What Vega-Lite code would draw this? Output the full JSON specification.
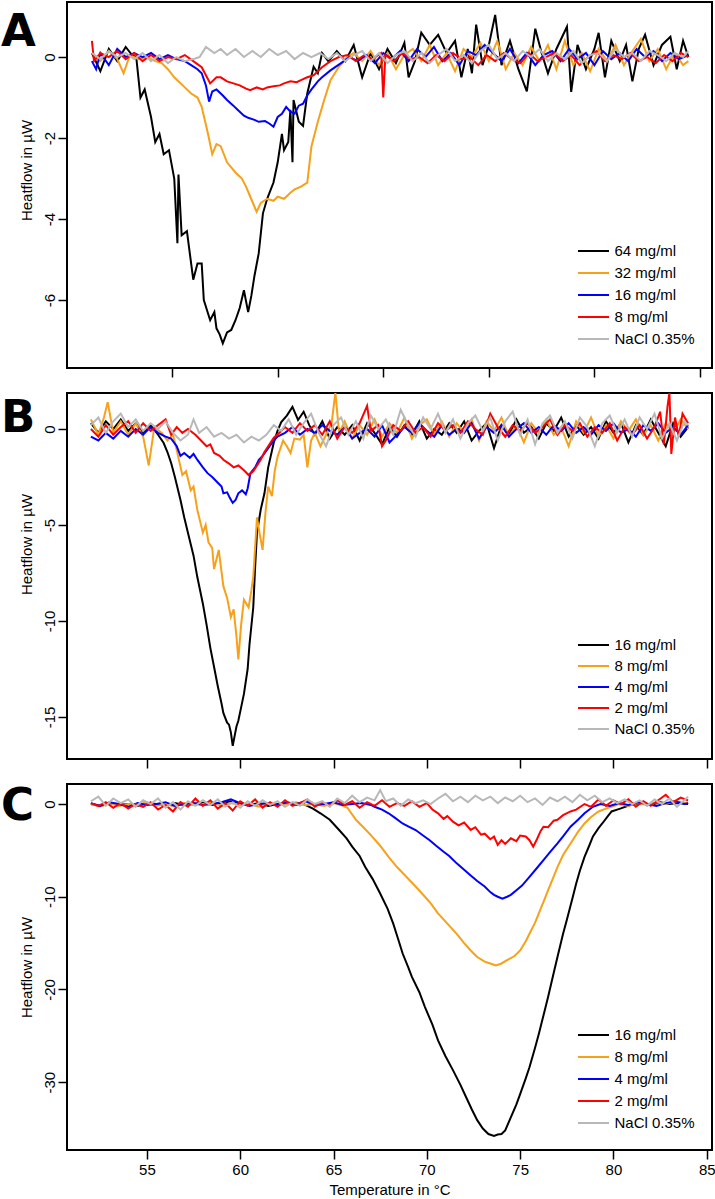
{
  "$schema": "https://vega.github.io/schema/vega-lite/v6.json",
  "description": "DSC thermograms: heatflow against temperature for three dilution series (panels A, B, C).",
  "padding": {"left": 0, "top": 1, "right": 0, "bottom": 0},
  "spacing": 25,
  "bounds": "flush",
  "config": {
    "font": "Liberation Sans",
    "view": {"stroke": "black", "strokeWidth": 2},
    "axis": {
      "grid": false, "domain": false, "tickColor": "black", "tickSize": 9, "tickWidth": 1.5,
      "labelColor": "black", "labelFontSize": 15, "labelFont": "Liberation Sans",
      "labelFlush": false, "labelOverlap": false,
      "titleColor": "black", "titleFontSize": 15, "titleFont": "Liberation Sans", "titleFontWeight": "normal"
    },
    "axisY": {"labelAngle": 270, "labelPadding": 1},
    "axisX": {"labelAngle": 0, "labelPadding": 3},
    "legend": {
      "orient": "none", "title": null, "symbolType": "M-1.55,0H1.55", "symbolSize": 400, "symbolStrokeWidth": 2,
      "labelFontSize": 15, "labelFont": "Liberation Sans", "labelColor": "black", "rowPadding": 3,
      "labelOffset": 10, "padding": 0
    },
    "line": {"strokeWidth": 2},
    "title": {
      "anchor": "start", "frame": "group", "font": "DejaVu Sans", "fontSize": 45, "fontWeight": "bold",
      "color": "black", "offset": 0, "baseline": "alphabetic", "dx": -66
    }
  },
  "resolve": {"scale": {"x": "independent", "y": "independent", "color": "independent"}, "legend": {"color": "independent"}},
  "datasets": {
    "A": [
      {"s":"64 mg/ml","t":51.2,"h":0.1},{"s":"64 mg/ml","t":51.6,"h":-0.35},{"s":"64 mg/ml","t":52.0,"h":0.2},{"s":"64 mg/ml","t":52.4,"h":-0.1},{"s":"64 mg/ml","t":52.8,"h":0.25},{"s":"64 mg/ml","t":53.1,"h":0.05},{"s":"64 mg/ml","t":53.3,"h":0.0},{"s":"64 mg/ml","t":53.5,"h":-1.0},{"s":"64 mg/ml","t":53.7,"h":-0.8},{"s":"64 mg/ml","t":54.0,"h":-1.48},{"s":"64 mg/ml","t":54.2,"h":-2.1},{"s":"64 mg/ml","t":54.4,"h":-1.9},{"s":"64 mg/ml","t":54.6,"h":-2.4},{"s":"64 mg/ml","t":54.85,"h":-2.3},{"s":"64 mg/ml","t":55.1,"h":-3.0},{"s":"64 mg/ml","t":55.25,"h":-4.6},{"s":"64 mg/ml","t":55.3,"h":-2.9},{"s":"64 mg/ml","t":55.45,"h":-4.4},{"s":"64 mg/ml","t":55.7,"h":-4.3},{"s":"64 mg/ml","t":56.0,"h":-5.5},{"s":"64 mg/ml","t":56.2,"h":-5.1},{"s":"64 mg/ml","t":56.4,"h":-5.1},{"s":"64 mg/ml","t":56.5,"h":-6.0},{"s":"64 mg/ml","t":56.8,"h":-6.5},{"s":"64 mg/ml","t":57.0,"h":-6.3},{"s":"64 mg/ml","t":57.1,"h":-6.7},{"s":"64 mg/ml","t":57.25,"h":-6.85},{"s":"64 mg/ml","t":57.4,"h":-7.07},{"s":"64 mg/ml","t":57.6,"h":-6.8},{"s":"64 mg/ml","t":57.8,"h":-6.74},{"s":"64 mg/ml","t":58.0,"h":-6.5},{"s":"64 mg/ml","t":58.2,"h":-6.2},{"s":"64 mg/ml","t":58.4,"h":-5.76},{"s":"64 mg/ml","t":58.6,"h":-6.3},{"s":"64 mg/ml","t":58.75,"h":-5.9},{"s":"64 mg/ml","t":58.9,"h":-5.4},{"s":"64 mg/ml","t":59.1,"h":-4.85},{"s":"64 mg/ml","t":59.3,"h":-3.86},{"s":"64 mg/ml","t":59.5,"h":-3.5},{"s":"64 mg/ml","t":59.8,"h":-3.1},{"s":"64 mg/ml","t":60.0,"h":-2.6},{"s":"64 mg/ml","t":60.2,"h":-1.9},{"s":"64 mg/ml","t":60.3,"h":-2.3},{"s":"64 mg/ml","t":60.5,"h":-2.1},{"s":"64 mg/ml","t":60.6,"h":-1.3},{"s":"64 mg/ml","t":60.7,"h":-2.6},{"s":"64 mg/ml","t":60.75,"h":-1.06},{"s":"64 mg/ml","t":61.0,"h":-1.6},{"s":"64 mg/ml","t":61.2,"h":-1.7},{"s":"64 mg/ml","t":61.4,"h":-0.9},{"s":"64 mg/ml","t":61.7,"h":-0.24},{"s":"64 mg/ml","t":61.9,"h":-0.4},{"s":"64 mg/ml","t":62.1,"h":0.1},{"s":"64 mg/ml","t":62.4,"h":-0.1},{"s":"64 mg/ml","t":62.8,"h":0.15},{"s":"64 mg/ml","t":63.2,"h":-0.1},{"s":"64 mg/ml","t":63.6,"h":0.3},{"s":"64 mg/ml","t":64.0,"h":-0.5},{"s":"64 mg/ml","t":64.4,"h":0.1},{"s":"64 mg/ml","t":64.8,"h":-0.3},{"s":"64 mg/ml","t":65.2,"h":0.2},{"s":"64 mg/ml","t":65.6,"h":-0.15},{"s":"64 mg/ml","t":66.0,"h":0.35},{"s":"64 mg/ml","t":66.2,"h":-0.5},{"s":"64 mg/ml","t":66.5,"h":-0.1},{"s":"64 mg/ml","t":66.8,"h":0.6},{"s":"64 mg/ml","t":67.2,"h":0.3},{"s":"64 mg/ml","t":67.6,"h":0.55},{"s":"64 mg/ml","t":68.0,"h":0.1},{"s":"64 mg/ml","t":68.4,"h":0.4},{"s":"64 mg/ml","t":68.7,"h":-0.5},{"s":"64 mg/ml","t":69.0,"h":0.2},{"s":"64 mg/ml","t":69.2,"h":-0.4},{"s":"64 mg/ml","t":69.4,"h":0.8},{"s":"64 mg/ml","t":69.7,"h":-0.2},{"s":"64 mg/ml","t":70.0,"h":0.3},{"s":"64 mg/ml","t":70.3,"h":1.04},{"s":"64 mg/ml","t":70.6,"h":-0.2},{"s":"64 mg/ml","t":71.0,"h":0.4},{"s":"64 mg/ml","t":71.4,"h":-0.3},{"s":"64 mg/ml","t":71.8,"h":-0.85},{"s":"64 mg/ml","t":72.2,"h":0.7},{"s":"64 mg/ml","t":72.5,"h":0.1},{"s":"64 mg/ml","t":72.8,"h":-0.4},{"s":"64 mg/ml","t":73.2,"h":0.2},{"s":"64 mg/ml","t":73.7,"h":0.75},{"s":"64 mg/ml","t":73.9,"h":-0.86},{"s":"64 mg/ml","t":74.2,"h":0.3},{"s":"64 mg/ml","t":74.6,"h":-0.3},{"s":"64 mg/ml","t":75.0,"h":0.2},{"s":"64 mg/ml","t":75.2,"h":0.6},{"s":"64 mg/ml","t":75.5,"h":-0.5},{"s":"64 mg/ml","t":75.8,"h":0.4},{"s":"64 mg/ml","t":76.2,"h":-0.1},{"s":"64 mg/ml","t":76.5,"h":0.3},{"s":"64 mg/ml","t":76.8,"h":-0.6},{"s":"64 mg/ml","t":77.1,"h":0.2},{"s":"64 mg/ml","t":77.4,"h":0.55},{"s":"64 mg/ml","t":77.8,"h":-0.2},{"s":"64 mg/ml","t":78.2,"h":0.3},{"s":"64 mg/ml","t":78.6,"h":0.5},{"s":"64 mg/ml","t":78.9,"h":-0.3},{"s":"64 mg/ml","t":79.2,"h":0.4},{"s":"64 mg/ml","t":79.45,"h":0.0},
      {"s":"32 mg/ml","t":51.2,"h":0.1},{"s":"32 mg/ml","t":51.6,"h":-0.1},{"s":"32 mg/ml","t":52.0,"h":0.15},{"s":"32 mg/ml","t":52.4,"h":-0.05},{"s":"32 mg/ml","t":52.7,"h":-0.4},{"s":"32 mg/ml","t":53.0,"h":0.05},{"s":"32 mg/ml","t":53.4,"h":-0.05},{"s":"32 mg/ml","t":53.8,"h":0.0},{"s":"32 mg/ml","t":54.2,"h":-0.1},{"s":"32 mg/ml","t":54.5,"h":-0.15},{"s":"32 mg/ml","t":54.8,"h":-0.3},{"s":"32 mg/ml","t":55.1,"h":-0.5},{"s":"32 mg/ml","t":55.5,"h":-0.7},{"s":"32 mg/ml","t":55.9,"h":-0.9},{"s":"32 mg/ml","t":56.2,"h":-1.0},{"s":"32 mg/ml","t":56.4,"h":-1.23},{"s":"32 mg/ml","t":56.7,"h":-1.9},{"s":"32 mg/ml","t":56.9,"h":-2.4},{"s":"32 mg/ml","t":57.1,"h":-2.15},{"s":"32 mg/ml","t":57.3,"h":-2.2},{"s":"32 mg/ml","t":57.6,"h":-2.6},{"s":"32 mg/ml","t":58.0,"h":-2.85},{"s":"32 mg/ml","t":58.3,"h":-3.0},{"s":"32 mg/ml","t":58.5,"h":-3.2},{"s":"32 mg/ml","t":58.7,"h":-3.45},{"s":"32 mg/ml","t":59.0,"h":-3.82},{"s":"32 mg/ml","t":59.2,"h":-3.6},{"s":"32 mg/ml","t":59.5,"h":-3.5},{"s":"32 mg/ml","t":59.8,"h":-3.55},{"s":"32 mg/ml","t":60.0,"h":-3.45},{"s":"32 mg/ml","t":60.3,"h":-3.5},{"s":"32 mg/ml","t":60.6,"h":-3.35},{"s":"32 mg/ml","t":60.8,"h":-3.27},{"s":"32 mg/ml","t":61.1,"h":-3.2},{"s":"32 mg/ml","t":61.4,"h":-3.1},{"s":"32 mg/ml","t":61.6,"h":-2.2},{"s":"32 mg/ml","t":61.9,"h":-1.6},{"s":"32 mg/ml","t":62.2,"h":-1.06},{"s":"32 mg/ml","t":62.5,"h":-0.57},{"s":"32 mg/ml","t":62.9,"h":-0.24},{"s":"32 mg/ml","t":63.3,"h":0.0},{"s":"32 mg/ml","t":63.6,"h":0.1},{"s":"32 mg/ml","t":64.0,"h":-0.1},{"s":"32 mg/ml","t":64.4,"h":0.15},{"s":"32 mg/ml","t":64.8,"h":-0.2},{"s":"32 mg/ml","t":65.2,"h":0.1},{"s":"32 mg/ml","t":65.6,"h":-0.3},{"s":"32 mg/ml","t":66.0,"h":0.05},{"s":"32 mg/ml","t":66.4,"h":0.2},{"s":"32 mg/ml","t":66.8,"h":-0.1},{"s":"32 mg/ml","t":67.2,"h":0.3},{"s":"32 mg/ml","t":67.6,"h":-0.2},{"s":"32 mg/ml","t":68.0,"h":0.1},{"s":"32 mg/ml","t":68.4,"h":-0.35},{"s":"32 mg/ml","t":68.8,"h":0.2},{"s":"32 mg/ml","t":69.2,"h":0.0},{"s":"32 mg/ml","t":69.6,"h":0.35},{"s":"32 mg/ml","t":70.0,"h":-0.1},{"s":"32 mg/ml","t":70.4,"h":0.4},{"s":"32 mg/ml","t":70.8,"h":-0.3},{"s":"32 mg/ml","t":71.2,"h":0.1},{"s":"32 mg/ml","t":71.6,"h":-0.2},{"s":"32 mg/ml","t":72.0,"h":0.25},{"s":"32 mg/ml","t":72.4,"h":-0.1},{"s":"32 mg/ml","t":72.8,"h":0.3},{"s":"32 mg/ml","t":73.2,"h":-0.3},{"s":"32 mg/ml","t":73.6,"h":0.4},{"s":"32 mg/ml","t":74.0,"h":-0.2},{"s":"32 mg/ml","t":74.4,"h":0.1},{"s":"32 mg/ml","t":74.8,"h":-0.35},{"s":"32 mg/ml","t":75.2,"h":0.2},{"s":"32 mg/ml","t":75.6,"h":-0.1},{"s":"32 mg/ml","t":76.0,"h":0.3},{"s":"32 mg/ml","t":76.4,"h":-0.2},{"s":"32 mg/ml","t":76.8,"h":0.15},{"s":"32 mg/ml","t":77.2,"h":0.45},{"s":"32 mg/ml","t":77.6,"h":-0.1},{"s":"32 mg/ml","t":78.0,"h":0.2},{"s":"32 mg/ml","t":78.4,"h":-0.3},{"s":"32 mg/ml","t":78.8,"h":0.1},{"s":"32 mg/ml","t":79.2,"h":-0.2},{"s":"32 mg/ml","t":79.45,"h":-0.1},
      {"s":"16 mg/ml","t":51.2,"h":-0.1},{"s":"16 mg/ml","t":51.4,"h":-0.3},{"s":"16 mg/ml","t":51.6,"h":0.1},{"s":"16 mg/ml","t":52.0,"h":-0.2},{"s":"16 mg/ml","t":52.4,"h":0.2},{"s":"16 mg/ml","t":52.8,"h":0.0},{"s":"16 mg/ml","t":53.2,"h":0.1},{"s":"16 mg/ml","t":53.6,"h":0.0},{"s":"16 mg/ml","t":54.0,"h":0.1},{"s":"16 mg/ml","t":54.4,"h":-0.05},{"s":"16 mg/ml","t":54.8,"h":0.05},{"s":"16 mg/ml","t":55.2,"h":-0.05},{"s":"16 mg/ml","t":55.6,"h":-0.1},{"s":"16 mg/ml","t":55.9,"h":-0.2},{"s":"16 mg/ml","t":56.2,"h":-0.3},{"s":"16 mg/ml","t":56.4,"h":-0.4},{"s":"16 mg/ml","t":56.6,"h":-0.7},{"s":"16 mg/ml","t":56.75,"h":-1.1},{"s":"16 mg/ml","t":56.9,"h":-0.85},{"s":"16 mg/ml","t":57.1,"h":-0.8},{"s":"16 mg/ml","t":57.4,"h":-0.95},{"s":"16 mg/ml","t":57.6,"h":-1.06},{"s":"16 mg/ml","t":57.9,"h":-1.2},{"s":"16 mg/ml","t":58.1,"h":-1.3},{"s":"16 mg/ml","t":58.4,"h":-1.45},{"s":"16 mg/ml","t":58.6,"h":-1.5},{"s":"16 mg/ml","t":58.9,"h":-1.55},{"s":"16 mg/ml","t":59.1,"h":-1.6},{"s":"16 mg/ml","t":59.4,"h":-1.58},{"s":"16 mg/ml","t":59.6,"h":-1.64},{"s":"16 mg/ml","t":59.8,"h":-1.72},{"s":"16 mg/ml","t":60.0,"h":-1.48},{"s":"16 mg/ml","t":60.2,"h":-1.4},{"s":"16 mg/ml","t":60.4,"h":-1.23},{"s":"16 mg/ml","t":60.6,"h":-1.35},{"s":"16 mg/ml","t":60.8,"h":-1.4},{"s":"16 mg/ml","t":61.0,"h":-1.2},{"s":"16 mg/ml","t":61.2,"h":-1.15},{"s":"16 mg/ml","t":61.4,"h":-0.95},{"s":"16 mg/ml","t":61.6,"h":-0.8},{"s":"16 mg/ml","t":61.9,"h":-0.6},{"s":"16 mg/ml","t":62.1,"h":-0.5},{"s":"16 mg/ml","t":62.5,"h":-0.33},{"s":"16 mg/ml","t":63.0,"h":-0.15},{"s":"16 mg/ml","t":63.4,"h":0.0},{"s":"16 mg/ml","t":63.8,"h":-0.1},{"s":"16 mg/ml","t":64.2,"h":0.05},{"s":"16 mg/ml","t":64.6,"h":-0.15},{"s":"16 mg/ml","t":65.0,"h":0.1},{"s":"16 mg/ml","t":65.4,"h":-0.05},{"s":"16 mg/ml","t":65.8,"h":0.15},{"s":"16 mg/ml","t":66.2,"h":-0.1},{"s":"16 mg/ml","t":66.6,"h":0.2},{"s":"16 mg/ml","t":67.0,"h":0.0},{"s":"16 mg/ml","t":67.4,"h":0.25},{"s":"16 mg/ml","t":67.8,"h":-0.1},{"s":"16 mg/ml","t":68.2,"h":0.1},{"s":"16 mg/ml","t":68.6,"h":-0.2},{"s":"16 mg/ml","t":69.0,"h":0.15},{"s":"16 mg/ml","t":69.4,"h":0.05},{"s":"16 mg/ml","t":69.8,"h":0.3},{"s":"16 mg/ml","t":70.2,"h":0.1},{"s":"16 mg/ml","t":70.6,"h":-0.1},{"s":"16 mg/ml","t":71.0,"h":0.2},{"s":"16 mg/ml","t":71.4,"h":-0.15},{"s":"16 mg/ml","t":71.8,"h":0.1},{"s":"16 mg/ml","t":72.2,"h":-0.2},{"s":"16 mg/ml","t":72.6,"h":0.05},{"s":"16 mg/ml","t":73.0,"h":0.15},{"s":"16 mg/ml","t":73.4,"h":-0.1},{"s":"16 mg/ml","t":73.8,"h":0.2},{"s":"16 mg/ml","t":74.2,"h":-0.05},{"s":"16 mg/ml","t":74.6,"h":0.1},{"s":"16 mg/ml","t":75.0,"h":-0.2},{"s":"16 mg/ml","t":75.4,"h":0.15},{"s":"16 mg/ml","t":75.8,"h":-0.05},{"s":"16 mg/ml","t":76.2,"h":0.1},{"s":"16 mg/ml","t":76.6,"h":-0.1},{"s":"16 mg/ml","t":77.0,"h":0.2},{"s":"16 mg/ml","t":77.4,"h":0.0},{"s":"16 mg/ml","t":77.8,"h":0.15},{"s":"16 mg/ml","t":78.2,"h":-0.1},{"s":"16 mg/ml","t":78.6,"h":0.1},{"s":"16 mg/ml","t":79.0,"h":-0.05},{"s":"16 mg/ml","t":79.45,"h":0.05},
      {"s":"8 mg/ml","t":51.2,"h":0.4},{"s":"8 mg/ml","t":51.3,"h":-0.1},{"s":"8 mg/ml","t":51.6,"h":0.1},{"s":"8 mg/ml","t":52.0,"h":0.0},{"s":"8 mg/ml","t":52.4,"h":0.15},{"s":"8 mg/ml","t":52.8,"h":-0.05},{"s":"8 mg/ml","t":53.2,"h":0.1},{"s":"8 mg/ml","t":53.6,"h":-0.1},{"s":"8 mg/ml","t":54.0,"h":0.05},{"s":"8 mg/ml","t":54.4,"h":-0.1},{"s":"8 mg/ml","t":54.8,"h":0.0},{"s":"8 mg/ml","t":55.2,"h":-0.05},{"s":"8 mg/ml","t":55.6,"h":0.05},{"s":"8 mg/ml","t":56.0,"h":-0.1},{"s":"8 mg/ml","t":56.4,"h":-0.25},{"s":"8 mg/ml","t":56.6,"h":-0.45},{"s":"8 mg/ml","t":56.8,"h":-0.65},{"s":"8 mg/ml","t":57.1,"h":-0.5},{"s":"8 mg/ml","t":57.3,"h":-0.5},{"s":"8 mg/ml","t":57.6,"h":-0.6},{"s":"8 mg/ml","t":57.9,"h":-0.65},{"s":"8 mg/ml","t":58.2,"h":-0.7},{"s":"8 mg/ml","t":58.5,"h":-0.78},{"s":"8 mg/ml","t":58.7,"h":-0.82},{"s":"8 mg/ml","t":59.0,"h":-0.75},{"s":"8 mg/ml","t":59.3,"h":-0.8},{"s":"8 mg/ml","t":59.5,"h":-0.75},{"s":"8 mg/ml","t":59.8,"h":-0.72},{"s":"8 mg/ml","t":60.1,"h":-0.7},{"s":"8 mg/ml","t":60.3,"h":-0.65},{"s":"8 mg/ml","t":60.6,"h":-0.6},{"s":"8 mg/ml","t":60.9,"h":-0.62},{"s":"8 mg/ml","t":61.1,"h":-0.57},{"s":"8 mg/ml","t":61.4,"h":-0.5},{"s":"8 mg/ml","t":61.7,"h":-0.45},{"s":"8 mg/ml","t":61.9,"h":-0.35},{"s":"8 mg/ml","t":62.1,"h":-0.25},{"s":"8 mg/ml","t":62.5,"h":-0.1},{"s":"8 mg/ml","t":62.9,"h":0.0},{"s":"8 mg/ml","t":63.3,"h":0.05},{"s":"8 mg/ml","t":63.7,"h":-0.1},{"s":"8 mg/ml","t":64.1,"h":0.05},{"s":"8 mg/ml","t":64.5,"h":-0.05},{"s":"8 mg/ml","t":64.9,"h":0.1},{"s":"8 mg/ml","t":65.0,"h":-1.0},{"s":"8 mg/ml","t":65.1,"h":0.05},{"s":"8 mg/ml","t":65.5,"h":-0.1},{"s":"8 mg/ml","t":65.9,"h":0.1},{"s":"8 mg/ml","t":66.3,"h":-0.05},{"s":"8 mg/ml","t":66.7,"h":0.0},{"s":"8 mg/ml","t":67.1,"h":-0.15},{"s":"8 mg/ml","t":67.5,"h":0.05},{"s":"8 mg/ml","t":67.9,"h":-0.1},{"s":"8 mg/ml","t":68.3,"h":0.1},{"s":"8 mg/ml","t":68.7,"h":-0.05},{"s":"8 mg/ml","t":69.1,"h":0.0},{"s":"8 mg/ml","t":69.5,"h":-0.2},{"s":"8 mg/ml","t":69.9,"h":0.05},{"s":"8 mg/ml","t":70.3,"h":-0.1},{"s":"8 mg/ml","t":70.7,"h":0.1},{"s":"8 mg/ml","t":71.1,"h":-0.05},{"s":"8 mg/ml","t":71.5,"h":-0.15},{"s":"8 mg/ml","t":71.9,"h":0.1},{"s":"8 mg/ml","t":72.3,"h":-0.1},{"s":"8 mg/ml","t":72.7,"h":0.0},{"s":"8 mg/ml","t":73.1,"h":0.1},{"s":"8 mg/ml","t":73.5,"h":-0.1},{"s":"8 mg/ml","t":73.9,"h":0.05},{"s":"8 mg/ml","t":74.3,"h":-0.2},{"s":"8 mg/ml","t":74.7,"h":0.0},{"s":"8 mg/ml","t":75.1,"h":0.15},{"s":"8 mg/ml","t":75.5,"h":-0.1},{"s":"8 mg/ml","t":75.9,"h":0.05},{"s":"8 mg/ml","t":76.3,"h":-0.05},{"s":"8 mg/ml","t":76.7,"h":0.1},{"s":"8 mg/ml","t":77.1,"h":-0.1},{"s":"8 mg/ml","t":77.5,"h":0.0},{"s":"8 mg/ml","t":77.9,"h":-0.15},{"s":"8 mg/ml","t":78.3,"h":0.05},{"s":"8 mg/ml","t":78.7,"h":-0.1},{"s":"8 mg/ml","t":79.1,"h":0.1},{"s":"8 mg/ml","t":79.45,"h":0.0},
      {"s":"NaCl 0.35%","t":51.2,"h":0.1},{"s":"NaCl 0.35%","t":51.6,"h":-0.05},{"s":"NaCl 0.35%","t":52.0,"h":0.15},{"s":"NaCl 0.35%","t":52.4,"h":0.0},{"s":"NaCl 0.35%","t":52.8,"h":0.1},{"s":"NaCl 0.35%","t":53.2,"h":-0.05},{"s":"NaCl 0.35%","t":53.6,"h":0.1},{"s":"NaCl 0.35%","t":54.0,"h":-0.1},{"s":"NaCl 0.35%","t":54.4,"h":0.05},{"s":"NaCl 0.35%","t":54.8,"h":-0.15},{"s":"NaCl 0.35%","t":55.2,"h":0.0},{"s":"NaCl 0.35%","t":55.6,"h":-0.1},{"s":"NaCl 0.35%","t":56.0,"h":-0.05},{"s":"NaCl 0.35%","t":56.3,"h":0.0},{"s":"NaCl 0.35%","t":56.6,"h":0.25},{"s":"NaCl 0.35%","t":57.0,"h":0.1},{"s":"NaCl 0.35%","t":57.3,"h":0.2},{"s":"NaCl 0.35%","t":57.6,"h":0.05},{"s":"NaCl 0.35%","t":58.0,"h":0.2},{"s":"NaCl 0.35%","t":58.4,"h":0.0},{"s":"NaCl 0.35%","t":58.8,"h":0.15},{"s":"NaCl 0.35%","t":59.2,"h":0.0},{"s":"NaCl 0.35%","t":59.6,"h":0.2},{"s":"NaCl 0.35%","t":60.0,"h":0.05},{"s":"NaCl 0.35%","t":60.4,"h":0.15},{"s":"NaCl 0.35%","t":60.8,"h":-0.05},{"s":"NaCl 0.35%","t":61.2,"h":0.1},{"s":"NaCl 0.35%","t":61.6,"h":0.0},{"s":"NaCl 0.35%","t":62.0,"h":0.1},{"s":"NaCl 0.35%","t":62.4,"h":-0.05},{"s":"NaCl 0.35%","t":62.8,"h":0.1},{"s":"NaCl 0.35%","t":63.2,"h":-0.1},{"s":"NaCl 0.35%","t":63.6,"h":0.05},{"s":"NaCl 0.35%","t":64.0,"h":0.15},{"s":"NaCl 0.35%","t":64.4,"h":-0.1},{"s":"NaCl 0.35%","t":64.8,"h":0.1},{"s":"NaCl 0.35%","t":65.2,"h":-0.15},{"s":"NaCl 0.35%","t":65.6,"h":0.05},{"s":"NaCl 0.35%","t":66.0,"h":0.15},{"s":"NaCl 0.35%","t":66.4,"h":-0.1},{"s":"NaCl 0.35%","t":66.8,"h":0.1},{"s":"NaCl 0.35%","t":67.2,"h":-0.15},{"s":"NaCl 0.35%","t":67.6,"h":0.05},{"s":"NaCl 0.35%","t":68.0,"h":0.2},{"s":"NaCl 0.35%","t":68.4,"h":-0.1},{"s":"NaCl 0.35%","t":68.8,"h":0.05},{"s":"NaCl 0.35%","t":69.2,"h":-0.15},{"s":"NaCl 0.35%","t":69.6,"h":0.15},{"s":"NaCl 0.35%","t":70.0,"h":0.3},{"s":"NaCl 0.35%","t":70.4,"h":-0.05},{"s":"NaCl 0.35%","t":70.8,"h":0.1},{"s":"NaCl 0.35%","t":71.2,"h":-0.1},{"s":"NaCl 0.35%","t":71.6,"h":0.15},{"s":"NaCl 0.35%","t":72.0,"h":0.0},{"s":"NaCl 0.35%","t":72.4,"h":0.2},{"s":"NaCl 0.35%","t":72.8,"h":-0.1},{"s":"NaCl 0.35%","t":73.2,"h":0.1},{"s":"NaCl 0.35%","t":73.6,"h":-0.05},{"s":"NaCl 0.35%","t":74.0,"h":0.15},{"s":"NaCl 0.35%","t":74.4,"h":-0.15},{"s":"NaCl 0.35%","t":74.8,"h":0.05},{"s":"NaCl 0.35%","t":75.2,"h":0.1},{"s":"NaCl 0.35%","t":75.6,"h":-0.1},{"s":"NaCl 0.35%","t":76.0,"h":0.2},{"s":"NaCl 0.35%","t":76.4,"h":0.0},{"s":"NaCl 0.35%","t":76.8,"h":0.1},{"s":"NaCl 0.35%","t":77.2,"h":-0.1},{"s":"NaCl 0.35%","t":77.6,"h":0.15},{"s":"NaCl 0.35%","t":78.0,"h":0.05},{"s":"NaCl 0.35%","t":78.4,"h":-0.1},{"s":"NaCl 0.35%","t":78.8,"h":0.1},{"s":"NaCl 0.35%","t":79.2,"h":0.0},{"s":"NaCl 0.35%","t":79.45,"h":0.15}
    ],
    "B": [
      {"s":"16 mg/ml","t":52.0,"h":0.3},{"s":"16 mg/ml","t":52.4,"h":-0.2},{"s":"16 mg/ml","t":52.8,"h":0.4},{"s":"16 mg/ml","t":53.2,"h":0.0},{"s":"16 mg/ml","t":53.6,"h":0.5},{"s":"16 mg/ml","t":54.0,"h":-0.1},{"s":"16 mg/ml","t":54.4,"h":0.3},{"s":"16 mg/ml","t":54.8,"h":-0.2},{"s":"16 mg/ml","t":55.2,"h":0.2},{"s":"16 mg/ml","t":55.6,"h":-0.3},{"s":"16 mg/ml","t":55.9,"h":-0.73},{"s":"16 mg/ml","t":56.1,"h":-1.2},{"s":"16 mg/ml","t":56.3,"h":-1.77},{"s":"16 mg/ml","t":56.5,"h":-2.5},{"s":"16 mg/ml","t":56.8,"h":-3.7},{"s":"16 mg/ml","t":57.0,"h":-4.6},{"s":"16 mg/ml","t":57.2,"h":-5.4},{"s":"16 mg/ml","t":57.5,"h":-6.6},{"s":"16 mg/ml","t":57.7,"h":-7.7},{"s":"16 mg/ml","t":58.0,"h":-9.1},{"s":"16 mg/ml","t":58.2,"h":-10.2},{"s":"16 mg/ml","t":58.4,"h":-11.4},{"s":"16 mg/ml","t":58.6,"h":-12.4},{"s":"16 mg/ml","t":58.8,"h":-13.4},{"s":"16 mg/ml","t":59.0,"h":-14.3},{"s":"16 mg/ml","t":59.1,"h":-14.8},{"s":"16 mg/ml","t":59.3,"h":-15.3},{"s":"16 mg/ml","t":59.4,"h":-15.4},{"s":"16 mg/ml","t":59.5,"h":-15.8},{"s":"16 mg/ml","t":59.6,"h":-16.5},{"s":"16 mg/ml","t":59.7,"h":-16.0},{"s":"16 mg/ml","t":59.8,"h":-15.5},{"s":"16 mg/ml","t":59.9,"h":-15.2},{"s":"16 mg/ml","t":60.05,"h":-14.5},{"s":"16 mg/ml","t":60.2,"h":-13.8},{"s":"16 mg/ml","t":60.4,"h":-12.5},{"s":"16 mg/ml","t":60.5,"h":-11.2},{"s":"16 mg/ml","t":60.7,"h":-9.3},{"s":"16 mg/ml","t":60.8,"h":-7.2},{"s":"16 mg/ml","t":60.9,"h":-5.4},{"s":"16 mg/ml","t":61.1,"h":-4.2},{"s":"16 mg/ml","t":61.3,"h":-3.35},{"s":"16 mg/ml","t":61.5,"h":-2.0},{"s":"16 mg/ml","t":61.8,"h":-0.7},{"s":"16 mg/ml","t":62.0,"h":-0.1},{"s":"16 mg/ml","t":62.2,"h":0.36},{"s":"16 mg/ml","t":62.5,"h":0.7},{"s":"16 mg/ml","t":62.8,"h":1.15},{"s":"16 mg/ml","t":63.1,"h":0.47},{"s":"16 mg/ml","t":63.4,"h":0.9},{"s":"16 mg/ml","t":63.7,"h":0.2},{"s":"16 mg/ml","t":64.0,"h":-0.3},{"s":"16 mg/ml","t":64.4,"h":0.4},{"s":"16 mg/ml","t":64.8,"h":-0.5},{"s":"16 mg/ml","t":65.2,"h":0.1},{"s":"16 mg/ml","t":65.6,"h":-0.3},{"s":"16 mg/ml","t":66.0,"h":0.2},{"s":"16 mg/ml","t":66.4,"h":-0.6},{"s":"16 mg/ml","t":66.8,"h":0.3},{"s":"16 mg/ml","t":67.2,"h":-0.2},{"s":"16 mg/ml","t":67.6,"h":-0.8},{"s":"16 mg/ml","t":68.0,"h":0.1},{"s":"16 mg/ml","t":68.4,"h":-0.4},{"s":"16 mg/ml","t":68.8,"h":0.2},{"s":"16 mg/ml","t":69.2,"h":-0.3},{"s":"16 mg/ml","t":69.6,"h":0.4},{"s":"16 mg/ml","t":70.0,"h":-0.5},{"s":"16 mg/ml","t":70.4,"h":0.0},{"s":"16 mg/ml","t":70.8,"h":-0.3},{"s":"16 mg/ml","t":71.2,"h":0.3},{"s":"16 mg/ml","t":71.6,"h":-0.2},{"s":"16 mg/ml","t":72.0,"h":0.4},{"s":"16 mg/ml","t":72.4,"h":-0.6},{"s":"16 mg/ml","t":72.8,"h":-0.1},{"s":"16 mg/ml","t":73.2,"h":0.3},{"s":"16 mg/ml","t":73.6,"h":-1.0},{"s":"16 mg/ml","t":74.0,"h":0.2},{"s":"16 mg/ml","t":74.4,"h":-0.3},{"s":"16 mg/ml","t":74.8,"h":0.5},{"s":"16 mg/ml","t":75.2,"h":-0.2},{"s":"16 mg/ml","t":75.6,"h":0.1},{"s":"16 mg/ml","t":76.0,"h":-0.5},{"s":"16 mg/ml","t":76.4,"h":0.3},{"s":"16 mg/ml","t":76.8,"h":-0.1},{"s":"16 mg/ml","t":77.2,"h":0.6},{"s":"16 mg/ml","t":77.6,"h":-0.4},{"s":"16 mg/ml","t":78.0,"h":0.2},{"s":"16 mg/ml","t":78.4,"h":-0.3},{"s":"16 mg/ml","t":78.8,"h":0.1},{"s":"16 mg/ml","t":79.2,"h":-0.5},{"s":"16 mg/ml","t":79.6,"h":0.4},{"s":"16 mg/ml","t":80.0,"h":-0.2},{"s":"16 mg/ml","t":80.4,"h":0.3},{"s":"16 mg/ml","t":80.8,"h":-0.7},{"s":"16 mg/ml","t":81.2,"h":0.2},{"s":"16 mg/ml","t":81.6,"h":-0.3},{"s":"16 mg/ml","t":82.0,"h":0.5},{"s":"16 mg/ml","t":82.4,"h":-0.2},{"s":"16 mg/ml","t":82.8,"h":-0.9},{"s":"16 mg/ml","t":83.2,"h":0.3},{"s":"16 mg/ml","t":83.6,"h":-0.4},{"s":"16 mg/ml","t":84.0,"h":0.1},
      {"s":"8 mg/ml","t":52.0,"h":0.5},{"s":"8 mg/ml","t":52.4,"h":-0.3},{"s":"8 mg/ml","t":52.7,"h":0.6},{"s":"8 mg/ml","t":52.9,"h":1.4},{"s":"8 mg/ml","t":53.2,"h":-0.2},{"s":"8 mg/ml","t":53.6,"h":0.4},{"s":"8 mg/ml","t":54.0,"h":-0.3},{"s":"8 mg/ml","t":54.4,"h":0.3},{"s":"8 mg/ml","t":54.8,"h":-0.4},{"s":"8 mg/ml","t":55.1,"h":-1.9},{"s":"8 mg/ml","t":55.4,"h":0.1},{"s":"8 mg/ml","t":55.8,"h":-0.2},{"s":"8 mg/ml","t":56.1,"h":-0.6},{"s":"8 mg/ml","t":56.4,"h":-0.3},{"s":"8 mg/ml","t":56.6,"h":-1.1},{"s":"8 mg/ml","t":56.9,"h":-2.4},{"s":"8 mg/ml","t":57.1,"h":-2.2},{"s":"8 mg/ml","t":57.35,"h":-3.2},{"s":"8 mg/ml","t":57.5,"h":-3.0},{"s":"8 mg/ml","t":57.7,"h":-4.2},{"s":"8 mg/ml","t":58.0,"h":-5.4},{"s":"8 mg/ml","t":58.15,"h":-5.0},{"s":"8 mg/ml","t":58.3,"h":-5.9},{"s":"8 mg/ml","t":58.5,"h":-6.2},{"s":"8 mg/ml","t":58.6,"h":-7.3},{"s":"8 mg/ml","t":58.85,"h":-6.3},{"s":"8 mg/ml","t":59.1,"h":-8.2},{"s":"8 mg/ml","t":59.3,"h":-8.8},{"s":"8 mg/ml","t":59.5,"h":-9.8},{"s":"8 mg/ml","t":59.65,"h":-9.4},{"s":"8 mg/ml","t":59.8,"h":-10.8},{"s":"8 mg/ml","t":59.9,"h":-12.0},{"s":"8 mg/ml","t":60.05,"h":-10.2},{"s":"8 mg/ml","t":60.2,"h":-8.9},{"s":"8 mg/ml","t":60.45,"h":-9.3},{"s":"8 mg/ml","t":60.6,"h":-8.4},{"s":"8 mg/ml","t":60.7,"h":-7.7},{"s":"8 mg/ml","t":60.9,"h":-4.6},{"s":"8 mg/ml","t":61.05,"h":-5.5},{"s":"8 mg/ml","t":61.2,"h":-6.3},{"s":"8 mg/ml","t":61.35,"h":-4.4},{"s":"8 mg/ml","t":61.5,"h":-3.0},{"s":"8 mg/ml","t":61.7,"h":-3.5},{"s":"8 mg/ml","t":61.85,"h":-2.2},{"s":"8 mg/ml","t":62.0,"h":-1.45},{"s":"8 mg/ml","t":62.3,"h":-0.6},{"s":"8 mg/ml","t":62.5,"h":-0.9},{"s":"8 mg/ml","t":62.7,"h":-1.25},{"s":"8 mg/ml","t":62.9,"h":-0.5},{"s":"8 mg/ml","t":63.2,"h":-0.55},{"s":"8 mg/ml","t":63.4,"h":-0.3},{"s":"8 mg/ml","t":63.6,"h":-2.0},{"s":"8 mg/ml","t":63.8,"h":-0.6},{"s":"8 mg/ml","t":64.0,"h":-0.2},{"s":"8 mg/ml","t":64.3,"h":-0.9},{"s":"8 mg/ml","t":64.6,"h":-0.3},{"s":"8 mg/ml","t":64.9,"h":0.3},{"s":"8 mg/ml","t":65.1,"h":1.9},{"s":"8 mg/ml","t":65.3,"h":-0.2},{"s":"8 mg/ml","t":65.6,"h":0.4},{"s":"8 mg/ml","t":66.0,"h":-0.5},{"s":"8 mg/ml","t":66.4,"h":0.2},{"s":"8 mg/ml","t":66.8,"h":-0.3},{"s":"8 mg/ml","t":67.2,"h":0.5},{"s":"8 mg/ml","t":67.6,"h":-0.4},{"s":"8 mg/ml","t":68.0,"h":0.3},{"s":"8 mg/ml","t":68.4,"h":-0.2},{"s":"8 mg/ml","t":68.8,"h":0.6},{"s":"8 mg/ml","t":69.2,"h":-0.5},{"s":"8 mg/ml","t":69.6,"h":0.2},{"s":"8 mg/ml","t":70.0,"h":0.5},{"s":"8 mg/ml","t":70.4,"h":-0.3},{"s":"8 mg/ml","t":70.8,"h":0.4},{"s":"8 mg/ml","t":71.2,"h":-0.4},{"s":"8 mg/ml","t":71.6,"h":0.3},{"s":"8 mg/ml","t":72.0,"h":-0.2},{"s":"8 mg/ml","t":72.4,"h":0.5},{"s":"8 mg/ml","t":72.8,"h":-0.6},{"s":"8 mg/ml","t":73.2,"h":0.4},{"s":"8 mg/ml","t":73.6,"h":-0.1},{"s":"8 mg/ml","t":74.0,"h":0.6},{"s":"8 mg/ml","t":74.4,"h":-0.4},{"s":"8 mg/ml","t":74.8,"h":0.2},{"s":"8 mg/ml","t":75.2,"h":-0.7},{"s":"8 mg/ml","t":75.6,"h":0.3},{"s":"8 mg/ml","t":76.0,"h":-0.2},{"s":"8 mg/ml","t":76.4,"h":0.5},{"s":"8 mg/ml","t":76.8,"h":-0.3},{"s":"8 mg/ml","t":77.2,"h":0.1},{"s":"8 mg/ml","t":77.6,"h":-0.9},{"s":"8 mg/ml","t":78.0,"h":0.4},{"s":"8 mg/ml","t":78.4,"h":-0.2},{"s":"8 mg/ml","t":78.8,"h":0.6},{"s":"8 mg/ml","t":79.2,"h":-0.4},{"s":"8 mg/ml","t":79.6,"h":0.2},{"s":"8 mg/ml","t":80.0,"h":-0.5},{"s":"8 mg/ml","t":80.4,"h":0.4},{"s":"8 mg/ml","t":80.8,"h":-0.1},{"s":"8 mg/ml","t":81.2,"h":0.5},{"s":"8 mg/ml","t":81.6,"h":-0.3},{"s":"8 mg/ml","t":82.0,"h":0.2},{"s":"8 mg/ml","t":82.4,"h":-0.6},{"s":"8 mg/ml","t":82.8,"h":0.3},{"s":"8 mg/ml","t":83.2,"h":-0.2},{"s":"8 mg/ml","t":83.6,"h":0.5},{"s":"8 mg/ml","t":84.0,"h":0.0},
      {"s":"4 mg/ml","t":52.0,"h":-0.4},{"s":"4 mg/ml","t":52.4,"h":-0.6},{"s":"4 mg/ml","t":52.8,"h":-0.2},{"s":"4 mg/ml","t":53.2,"h":-0.5},{"s":"4 mg/ml","t":53.6,"h":-0.1},{"s":"4 mg/ml","t":54.0,"h":-0.4},{"s":"4 mg/ml","t":54.4,"h":0.0},{"s":"4 mg/ml","t":54.8,"h":-0.3},{"s":"4 mg/ml","t":55.2,"h":0.1},{"s":"4 mg/ml","t":55.6,"h":-0.2},{"s":"4 mg/ml","t":56.0,"h":-0.4},{"s":"4 mg/ml","t":56.3,"h":-0.5},{"s":"4 mg/ml","t":56.6,"h":-0.9},{"s":"4 mg/ml","t":56.8,"h":-1.4},{"s":"4 mg/ml","t":57.0,"h":-1.25},{"s":"4 mg/ml","t":57.3,"h":-1.5},{"s":"4 mg/ml","t":57.5,"h":-1.3},{"s":"4 mg/ml","t":57.7,"h":-1.6},{"s":"4 mg/ml","t":58.0,"h":-2.0},{"s":"4 mg/ml","t":58.25,"h":-2.3},{"s":"4 mg/ml","t":58.5,"h":-2.5},{"s":"4 mg/ml","t":58.8,"h":-2.8},{"s":"4 mg/ml","t":59.0,"h":-3.0},{"s":"4 mg/ml","t":59.1,"h":-3.35},{"s":"4 mg/ml","t":59.3,"h":-3.3},{"s":"4 mg/ml","t":59.45,"h":-3.6},{"s":"4 mg/ml","t":59.6,"h":-3.85},{"s":"4 mg/ml","t":59.75,"h":-3.7},{"s":"4 mg/ml","t":59.9,"h":-3.35},{"s":"4 mg/ml","t":60.1,"h":-3.2},{"s":"4 mg/ml","t":60.3,"h":-3.4},{"s":"4 mg/ml","t":60.4,"h":-3.1},{"s":"4 mg/ml","t":60.55,"h":-2.3},{"s":"4 mg/ml","t":60.8,"h":-2.0},{"s":"4 mg/ml","t":61.0,"h":-1.6},{"s":"4 mg/ml","t":61.2,"h":-1.4},{"s":"4 mg/ml","t":61.5,"h":-1.0},{"s":"4 mg/ml","t":61.8,"h":-0.6},{"s":"4 mg/ml","t":62.0,"h":-0.4},{"s":"4 mg/ml","t":62.4,"h":-0.2},{"s":"4 mg/ml","t":62.8,"h":0.1},{"s":"4 mg/ml","t":63.2,"h":-0.3},{"s":"4 mg/ml","t":63.6,"h":0.0},{"s":"4 mg/ml","t":64.0,"h":-0.2},{"s":"4 mg/ml","t":64.4,"h":0.2},{"s":"4 mg/ml","t":64.8,"h":-0.1},{"s":"4 mg/ml","t":65.2,"h":-0.3},{"s":"4 mg/ml","t":65.6,"h":0.1},{"s":"4 mg/ml","t":66.0,"h":-0.5},{"s":"4 mg/ml","t":66.4,"h":-0.2},{"s":"4 mg/ml","t":66.8,"h":0.0},{"s":"4 mg/ml","t":67.2,"h":-0.4},{"s":"4 mg/ml","t":67.6,"h":0.2},{"s":"4 mg/ml","t":68.0,"h":-0.7},{"s":"4 mg/ml","t":68.4,"h":-0.3},{"s":"4 mg/ml","t":68.8,"h":0.1},{"s":"4 mg/ml","t":69.2,"h":-0.2},{"s":"4 mg/ml","t":69.6,"h":0.3},{"s":"4 mg/ml","t":70.0,"h":-0.1},{"s":"4 mg/ml","t":70.4,"h":-0.4},{"s":"4 mg/ml","t":70.8,"h":0.2},{"s":"4 mg/ml","t":71.2,"h":-0.3},{"s":"4 mg/ml","t":71.6,"h":0.0},{"s":"4 mg/ml","t":72.0,"h":-0.2},{"s":"4 mg/ml","t":72.4,"h":0.3},{"s":"4 mg/ml","t":72.8,"h":-0.5},{"s":"4 mg/ml","t":73.2,"h":0.1},{"s":"4 mg/ml","t":73.6,"h":-0.2},{"s":"4 mg/ml","t":74.0,"h":0.2},{"s":"4 mg/ml","t":74.4,"h":-0.4},{"s":"4 mg/ml","t":74.8,"h":0.0},{"s":"4 mg/ml","t":75.2,"h":0.3},{"s":"4 mg/ml","t":75.6,"h":-0.2},{"s":"4 mg/ml","t":76.0,"h":0.1},{"s":"4 mg/ml","t":76.4,"h":-0.3},{"s":"4 mg/ml","t":76.8,"h":0.2},{"s":"4 mg/ml","t":77.2,"h":-0.1},{"s":"4 mg/ml","t":77.6,"h":0.3},{"s":"4 mg/ml","t":78.0,"h":-0.2},{"s":"4 mg/ml","t":78.4,"h":0.1},{"s":"4 mg/ml","t":78.8,"h":-0.3},{"s":"4 mg/ml","t":79.2,"h":0.2},{"s":"4 mg/ml","t":79.6,"h":-0.1},{"s":"4 mg/ml","t":80.0,"h":0.3},{"s":"4 mg/ml","t":80.4,"h":-0.2},{"s":"4 mg/ml","t":80.8,"h":0.0},{"s":"4 mg/ml","t":81.2,"h":-0.4},{"s":"4 mg/ml","t":81.6,"h":0.2},{"s":"4 mg/ml","t":82.0,"h":-0.1},{"s":"4 mg/ml","t":82.4,"h":0.3},{"s":"4 mg/ml","t":82.8,"h":-0.2},{"s":"4 mg/ml","t":83.2,"h":0.1},{"s":"4 mg/ml","t":83.6,"h":-0.3},{"s":"4 mg/ml","t":84.0,"h":0.2},
      {"s":"2 mg/ml","t":52.0,"h":0.0},{"s":"2 mg/ml","t":52.4,"h":-0.4},{"s":"2 mg/ml","t":52.8,"h":0.2},{"s":"2 mg/ml","t":53.2,"h":-0.3},{"s":"2 mg/ml","t":53.6,"h":0.1},{"s":"2 mg/ml","t":54.0,"h":0.4},{"s":"2 mg/ml","t":54.4,"h":-0.2},{"s":"2 mg/ml","t":54.8,"h":0.3},{"s":"2 mg/ml","t":55.2,"h":-0.1},{"s":"2 mg/ml","t":55.6,"h":0.2},{"s":"2 mg/ml","t":56.0,"h":0.5},{"s":"2 mg/ml","t":56.3,"h":-0.3},{"s":"2 mg/ml","t":56.6,"h":0.1},{"s":"2 mg/ml","t":56.9,"h":-0.2},{"s":"2 mg/ml","t":57.2,"h":0.0},{"s":"2 mg/ml","t":57.6,"h":-0.3},{"s":"2 mg/ml","t":57.9,"h":-0.6},{"s":"2 mg/ml","t":58.2,"h":-0.9},{"s":"2 mg/ml","t":58.4,"h":-0.8},{"s":"2 mg/ml","t":58.6,"h":-1.25},{"s":"2 mg/ml","t":58.9,"h":-1.4},{"s":"2 mg/ml","t":59.1,"h":-1.6},{"s":"2 mg/ml","t":59.4,"h":-1.8},{"s":"2 mg/ml","t":59.65,"h":-2.0},{"s":"2 mg/ml","t":59.9,"h":-1.9},{"s":"2 mg/ml","t":60.2,"h":-2.15},{"s":"2 mg/ml","t":60.45,"h":-2.4},{"s":"2 mg/ml","t":60.7,"h":-2.2},{"s":"2 mg/ml","t":60.9,"h":-1.9},{"s":"2 mg/ml","t":61.1,"h":-1.6},{"s":"2 mg/ml","t":61.3,"h":-1.2},{"s":"2 mg/ml","t":61.5,"h":-0.9},{"s":"2 mg/ml","t":61.8,"h":-0.45},{"s":"2 mg/ml","t":62.1,"h":-0.2},{"s":"2 mg/ml","t":62.4,"h":0.1},{"s":"2 mg/ml","t":62.8,"h":-0.2},{"s":"2 mg/ml","t":63.2,"h":0.3},{"s":"2 mg/ml","t":63.6,"h":-0.1},{"s":"2 mg/ml","t":64.0,"h":0.2},{"s":"2 mg/ml","t":64.4,"h":-0.3},{"s":"2 mg/ml","t":64.8,"h":0.4},{"s":"2 mg/ml","t":65.2,"h":-0.5},{"s":"2 mg/ml","t":65.6,"h":0.1},{"s":"2 mg/ml","t":66.0,"h":-0.2},{"s":"2 mg/ml","t":66.4,"h":0.3},{"s":"2 mg/ml","t":66.8,"h":1.2},{"s":"2 mg/ml","t":67.0,"h":-0.1},{"s":"2 mg/ml","t":67.4,"h":0.2},{"s":"2 mg/ml","t":67.6,"h":-0.9},{"s":"2 mg/ml","t":67.8,"h":-0.6},{"s":"2 mg/ml","t":68.2,"h":0.2},{"s":"2 mg/ml","t":68.6,"h":-0.1},{"s":"2 mg/ml","t":69.0,"h":0.4},{"s":"2 mg/ml","t":69.4,"h":-0.2},{"s":"2 mg/ml","t":69.8,"h":0.1},{"s":"2 mg/ml","t":70.2,"h":-0.4},{"s":"2 mg/ml","t":70.6,"h":0.3},{"s":"2 mg/ml","t":71.0,"h":-0.1},{"s":"2 mg/ml","t":71.4,"h":0.2},{"s":"2 mg/ml","t":71.8,"h":-0.2},{"s":"2 mg/ml","t":72.2,"h":0.4},{"s":"2 mg/ml","t":72.6,"h":0.0},{"s":"2 mg/ml","t":73.0,"h":-0.3},{"s":"2 mg/ml","t":73.4,"h":0.8},{"s":"2 mg/ml","t":73.8,"h":0.1},{"s":"2 mg/ml","t":74.2,"h":-0.4},{"s":"2 mg/ml","t":74.6,"h":0.2},{"s":"2 mg/ml","t":75.0,"h":-0.1},{"s":"2 mg/ml","t":75.4,"h":0.3},{"s":"2 mg/ml","t":75.8,"h":-0.2},{"s":"2 mg/ml","t":76.2,"h":0.1},{"s":"2 mg/ml","t":76.6,"h":0.5},{"s":"2 mg/ml","t":77.0,"h":-0.3},{"s":"2 mg/ml","t":77.4,"h":0.2},{"s":"2 mg/ml","t":77.8,"h":-0.1},{"s":"2 mg/ml","t":78.2,"h":0.3},{"s":"2 mg/ml","t":78.6,"h":-0.4},{"s":"2 mg/ml","t":79.0,"h":0.1},{"s":"2 mg/ml","t":79.4,"h":-0.2},{"s":"2 mg/ml","t":79.8,"h":0.3},{"s":"2 mg/ml","t":80.2,"h":-0.6},{"s":"2 mg/ml","t":80.6,"h":0.1},{"s":"2 mg/ml","t":81.0,"h":-0.3},{"s":"2 mg/ml","t":81.4,"h":0.2},{"s":"2 mg/ml","t":81.8,"h":-0.5},{"s":"2 mg/ml","t":82.2,"h":0.1},{"s":"2 mg/ml","t":82.5,"h":0.9},{"s":"2 mg/ml","t":82.7,"h":-0.8},{"s":"2 mg/ml","t":82.9,"h":1.2},{"s":"2 mg/ml","t":83.0,"h":1.9},{"s":"2 mg/ml","t":83.1,"h":-1.3},{"s":"2 mg/ml","t":83.3,"h":0.6},{"s":"2 mg/ml","t":83.5,"h":-0.4},{"s":"2 mg/ml","t":83.7,"h":0.8},{"s":"2 mg/ml","t":84.0,"h":0.3},
      {"s":"NaCl 0.35%","t":52.0,"h":0.2},{"s":"NaCl 0.35%","t":52.4,"h":0.6},{"s":"NaCl 0.35%","t":52.8,"h":-0.2},{"s":"NaCl 0.35%","t":53.2,"h":0.4},{"s":"NaCl 0.35%","t":53.6,"h":0.8},{"s":"NaCl 0.35%","t":54.0,"h":0.1},{"s":"NaCl 0.35%","t":54.4,"h":0.5},{"s":"NaCl 0.35%","t":54.8,"h":-0.1},{"s":"NaCl 0.35%","t":55.2,"h":0.3},{"s":"NaCl 0.35%","t":55.6,"h":0.0},{"s":"NaCl 0.35%","t":56.0,"h":0.4},{"s":"NaCl 0.35%","t":56.4,"h":-0.2},{"s":"NaCl 0.35%","t":56.8,"h":-0.6},{"s":"NaCl 0.35%","t":57.2,"h":-0.3},{"s":"NaCl 0.35%","t":57.5,"h":0.5},{"s":"NaCl 0.35%","t":57.8,"h":-0.2},{"s":"NaCl 0.35%","t":58.2,"h":0.1},{"s":"NaCl 0.35%","t":58.6,"h":-0.4},{"s":"NaCl 0.35%","t":59.0,"h":-0.2},{"s":"NaCl 0.35%","t":59.4,"h":-0.5},{"s":"NaCl 0.35%","t":59.8,"h":-0.3},{"s":"NaCl 0.35%","t":60.2,"h":-0.7},{"s":"NaCl 0.35%","t":60.6,"h":-0.4},{"s":"NaCl 0.35%","t":61.0,"h":-0.6},{"s":"NaCl 0.35%","t":61.4,"h":-0.3},{"s":"NaCl 0.35%","t":61.8,"h":0.2},{"s":"NaCl 0.35%","t":62.2,"h":-0.1},{"s":"NaCl 0.35%","t":62.6,"h":0.5},{"s":"NaCl 0.35%","t":63.0,"h":-0.3},{"s":"NaCl 0.35%","t":63.4,"h":0.3},{"s":"NaCl 0.35%","t":63.8,"h":0.8},{"s":"NaCl 0.35%","t":64.2,"h":-0.2},{"s":"NaCl 0.35%","t":64.6,"h":-0.9},{"s":"NaCl 0.35%","t":65.0,"h":0.2},{"s":"NaCl 0.35%","t":65.4,"h":0.6},{"s":"NaCl 0.35%","t":65.8,"h":-0.3},{"s":"NaCl 0.35%","t":66.2,"h":0.4},{"s":"NaCl 0.35%","t":66.6,"h":-0.5},{"s":"NaCl 0.35%","t":67.0,"h":0.7},{"s":"NaCl 0.35%","t":67.4,"h":0.0},{"s":"NaCl 0.35%","t":67.8,"h":0.5},{"s":"NaCl 0.35%","t":68.2,"h":-0.3},{"s":"NaCl 0.35%","t":68.6,"h":1.0},{"s":"NaCl 0.35%","t":69.0,"h":0.2},{"s":"NaCl 0.35%","t":69.4,"h":-0.4},{"s":"NaCl 0.35%","t":69.8,"h":0.6},{"s":"NaCl 0.35%","t":70.2,"h":0.0},{"s":"NaCl 0.35%","t":70.6,"h":0.8},{"s":"NaCl 0.35%","t":71.0,"h":-0.2},{"s":"NaCl 0.35%","t":71.4,"h":0.5},{"s":"NaCl 0.35%","t":71.8,"h":-0.5},{"s":"NaCl 0.35%","t":72.2,"h":0.3},{"s":"NaCl 0.35%","t":72.6,"h":0.7},{"s":"NaCl 0.35%","t":73.0,"h":-0.1},{"s":"NaCl 0.35%","t":73.4,"h":0.6},{"s":"NaCl 0.35%","t":73.8,"h":-0.6},{"s":"NaCl 0.35%","t":74.2,"h":0.4},{"s":"NaCl 0.35%","t":74.6,"h":0.9},{"s":"NaCl 0.35%","t":75.0,"h":-0.3},{"s":"NaCl 0.35%","t":75.4,"h":0.5},{"s":"NaCl 0.35%","t":75.8,"h":-0.8},{"s":"NaCl 0.35%","t":76.2,"h":0.3},{"s":"NaCl 0.35%","t":76.6,"h":0.7},{"s":"NaCl 0.35%","t":77.0,"h":-0.2},{"s":"NaCl 0.35%","t":77.4,"h":0.4},{"s":"NaCl 0.35%","t":77.8,"h":-0.5},{"s":"NaCl 0.35%","t":78.2,"h":0.6},{"s":"NaCl 0.35%","t":78.6,"h":0.1},{"s":"NaCl 0.35%","t":79.0,"h":-0.9},{"s":"NaCl 0.35%","t":79.4,"h":0.3},{"s":"NaCl 0.35%","t":79.8,"h":0.7},{"s":"NaCl 0.35%","t":80.2,"h":-0.2},{"s":"NaCl 0.35%","t":80.6,"h":0.5},{"s":"NaCl 0.35%","t":81.0,"h":-0.4},{"s":"NaCl 0.35%","t":81.4,"h":0.6},{"s":"NaCl 0.35%","t":81.8,"h":0.0},{"s":"NaCl 0.35%","t":82.2,"h":0.8},{"s":"NaCl 0.35%","t":82.6,"h":-0.5},{"s":"NaCl 0.35%","t":83.0,"h":0.3},{"s":"NaCl 0.35%","t":83.4,"h":-0.6},{"s":"NaCl 0.35%","t":83.8,"h":0.4},{"s":"NaCl 0.35%","t":84.0,"h":0.2}
    ],
    "C": [
      {"s":"16 mg/ml","t":52.0,"h":0.0},{"s":"16 mg/ml","t":52.5,"h":-0.2},{"s":"16 mg/ml","t":53.0,"h":0.1},{"s":"16 mg/ml","t":53.5,"h":-0.1},{"s":"16 mg/ml","t":54.0,"h":0.0},{"s":"16 mg/ml","t":54.5,"h":-0.2},{"s":"16 mg/ml","t":55.0,"h":0.1},{"s":"16 mg/ml","t":55.5,"h":0.0},{"s":"16 mg/ml","t":56.0,"h":-0.2},{"s":"16 mg/ml","t":56.5,"h":0.1},{"s":"16 mg/ml","t":57.0,"h":-0.1},{"s":"16 mg/ml","t":57.5,"h":0.0},{"s":"16 mg/ml","t":58.0,"h":0.2},{"s":"16 mg/ml","t":58.5,"h":-0.1},{"s":"16 mg/ml","t":59.0,"h":0.1},{"s":"16 mg/ml","t":59.5,"h":0.3},{"s":"16 mg/ml","t":60.0,"h":0.0},{"s":"16 mg/ml","t":60.5,"h":-0.1},{"s":"16 mg/ml","t":61.0,"h":0.1},{"s":"16 mg/ml","t":61.5,"h":-0.2},{"s":"16 mg/ml","t":62.0,"h":0.0},{"s":"16 mg/ml","t":62.5,"h":0.1},{"s":"16 mg/ml","t":63.0,"h":-0.1},{"s":"16 mg/ml","t":63.4,"h":0.0},{"s":"16 mg/ml","t":63.9,"h":-0.5},{"s":"16 mg/ml","t":64.3,"h":-1.0},{"s":"16 mg/ml","t":64.8,"h":-1.7},{"s":"16 mg/ml","t":65.3,"h":-2.8},{"s":"16 mg/ml","t":65.7,"h":-3.7},{"s":"16 mg/ml","t":66.0,"h":-4.6},{"s":"16 mg/ml","t":66.4,"h":-5.6},{"s":"16 mg/ml","t":66.7,"h":-6.8},{"s":"16 mg/ml","t":67.1,"h":-8.1},{"s":"16 mg/ml","t":67.5,"h":-9.65},{"s":"16 mg/ml","t":67.9,"h":-11.3},{"s":"16 mg/ml","t":68.2,"h":-12.9},{"s":"16 mg/ml","t":68.5,"h":-14.8},{"s":"16 mg/ml","t":68.7,"h":-16.1},{"s":"16 mg/ml","t":69.0,"h":-17.6},{"s":"16 mg/ml","t":69.2,"h":-18.65},{"s":"16 mg/ml","t":69.6,"h":-20.3},{"s":"16 mg/ml","t":69.9,"h":-21.9},{"s":"16 mg/ml","t":70.3,"h":-23.8},{"s":"16 mg/ml","t":70.6,"h":-25.5},{"s":"16 mg/ml","t":71.0,"h":-27.2},{"s":"16 mg/ml","t":71.4,"h":-28.7},{"s":"16 mg/ml","t":71.8,"h":-30.3},{"s":"16 mg/ml","t":72.1,"h":-31.6},{"s":"16 mg/ml","t":72.4,"h":-32.9},{"s":"16 mg/ml","t":72.7,"h":-34.1},{"s":"16 mg/ml","t":73.0,"h":-35.0},{"s":"16 mg/ml","t":73.3,"h":-35.6},{"s":"16 mg/ml","t":73.6,"h":-35.8},{"s":"16 mg/ml","t":73.8,"h":-35.65},{"s":"16 mg/ml","t":74.0,"h":-35.6},{"s":"16 mg/ml","t":74.2,"h":-35.2},{"s":"16 mg/ml","t":74.5,"h":-33.8},{"s":"16 mg/ml","t":74.8,"h":-32.4},{"s":"16 mg/ml","t":75.0,"h":-31.3},{"s":"16 mg/ml","t":75.3,"h":-29.6},{"s":"16 mg/ml","t":75.5,"h":-28.4},{"s":"16 mg/ml","t":75.8,"h":-26.3},{"s":"16 mg/ml","t":76.0,"h":-24.8},{"s":"16 mg/ml","t":76.3,"h":-22.4},{"s":"16 mg/ml","t":76.5,"h":-20.8},{"s":"16 mg/ml","t":76.8,"h":-18.2},{"s":"16 mg/ml","t":77.0,"h":-16.5},{"s":"16 mg/ml","t":77.3,"h":-14.0},{"s":"16 mg/ml","t":77.5,"h":-12.5},{"s":"16 mg/ml","t":77.8,"h":-10.2},{"s":"16 mg/ml","t":78.0,"h":-8.6},{"s":"16 mg/ml","t":78.2,"h":-7.2},{"s":"16 mg/ml","t":78.45,"h":-5.7},{"s":"16 mg/ml","t":78.7,"h":-4.5},{"s":"16 mg/ml","t":78.9,"h":-3.5},{"s":"16 mg/ml","t":79.2,"h":-2.6},{"s":"16 mg/ml","t":79.4,"h":-2.1},{"s":"16 mg/ml","t":79.7,"h":-1.3},{"s":"16 mg/ml","t":79.9,"h":-0.8},{"s":"16 mg/ml","t":80.2,"h":-0.6},{"s":"16 mg/ml","t":80.4,"h":-0.47},{"s":"16 mg/ml","t":80.9,"h":-0.1},{"s":"16 mg/ml","t":81.2,"h":0.0},{"s":"16 mg/ml","t":81.6,"h":0.1},{"s":"16 mg/ml","t":82.0,"h":-0.1},{"s":"16 mg/ml","t":82.5,"h":0.2},{"s":"16 mg/ml","t":83.0,"h":0.0},{"s":"16 mg/ml","t":83.5,"h":0.1},{"s":"16 mg/ml","t":84.0,"h":0.0},
      {"s":"8 mg/ml","t":52.0,"h":0.0},{"s":"8 mg/ml","t":52.5,"h":-0.3},{"s":"8 mg/ml","t":53.0,"h":0.1},{"s":"8 mg/ml","t":53.5,"h":-0.2},{"s":"8 mg/ml","t":54.0,"h":0.0},{"s":"8 mg/ml","t":54.5,"h":-0.1},{"s":"8 mg/ml","t":55.0,"h":0.2},{"s":"8 mg/ml","t":55.5,"h":-0.2},{"s":"8 mg/ml","t":56.0,"h":0.0},{"s":"8 mg/ml","t":56.5,"h":-0.3},{"s":"8 mg/ml","t":57.0,"h":0.1},{"s":"8 mg/ml","t":57.5,"h":-0.1},{"s":"8 mg/ml","t":58.0,"h":0.0},{"s":"8 mg/ml","t":58.5,"h":0.2},{"s":"8 mg/ml","t":59.0,"h":-0.2},{"s":"8 mg/ml","t":59.5,"h":0.1},{"s":"8 mg/ml","t":60.0,"h":-0.1},{"s":"8 mg/ml","t":60.5,"h":0.0},{"s":"8 mg/ml","t":61.0,"h":-0.3},{"s":"8 mg/ml","t":61.5,"h":0.1},{"s":"8 mg/ml","t":62.0,"h":-0.1},{"s":"8 mg/ml","t":62.5,"h":0.0},{"s":"8 mg/ml","t":63.0,"h":0.2},{"s":"8 mg/ml","t":63.5,"h":-0.1},{"s":"8 mg/ml","t":64.0,"h":0.0},{"s":"8 mg/ml","t":64.5,"h":-0.2},{"s":"8 mg/ml","t":65.0,"h":0.1},{"s":"8 mg/ml","t":65.5,"h":-0.2},{"s":"8 mg/ml","t":65.75,"h":-0.4},{"s":"8 mg/ml","t":66.2,"h":-1.7},{"s":"8 mg/ml","t":66.6,"h":-2.5},{"s":"8 mg/ml","t":67.0,"h":-3.35},{"s":"8 mg/ml","t":67.5,"h":-4.5},{"s":"8 mg/ml","t":67.95,"h":-5.7},{"s":"8 mg/ml","t":68.4,"h":-6.8},{"s":"8 mg/ml","t":68.9,"h":-7.85},{"s":"8 mg/ml","t":69.4,"h":-8.9},{"s":"8 mg/ml","t":69.9,"h":-10.0},{"s":"8 mg/ml","t":70.2,"h":-10.7},{"s":"8 mg/ml","t":70.6,"h":-11.8},{"s":"8 mg/ml","t":71.1,"h":-12.9},{"s":"8 mg/ml","t":71.6,"h":-14.0},{"s":"8 mg/ml","t":72.0,"h":-15.0},{"s":"8 mg/ml","t":72.35,"h":-15.8},{"s":"8 mg/ml","t":72.7,"h":-16.5},{"s":"8 mg/ml","t":73.1,"h":-17.0},{"s":"8 mg/ml","t":73.4,"h":-17.2},{"s":"8 mg/ml","t":73.7,"h":-17.4},{"s":"8 mg/ml","t":74.0,"h":-17.2},{"s":"8 mg/ml","t":74.3,"h":-16.85},{"s":"8 mg/ml","t":74.7,"h":-16.4},{"s":"8 mg/ml","t":75.0,"h":-15.8},{"s":"8 mg/ml","t":75.3,"h":-14.8},{"s":"8 mg/ml","t":75.5,"h":-14.0},{"s":"8 mg/ml","t":75.8,"h":-12.8},{"s":"8 mg/ml","t":76.0,"h":-11.8},{"s":"8 mg/ml","t":76.3,"h":-10.3},{"s":"8 mg/ml","t":76.5,"h":-9.3},{"s":"8 mg/ml","t":76.8,"h":-7.8},{"s":"8 mg/ml","t":77.0,"h":-6.8},{"s":"8 mg/ml","t":77.3,"h":-5.5},{"s":"8 mg/ml","t":77.7,"h":-4.25},{"s":"8 mg/ml","t":78.1,"h":-3.0},{"s":"8 mg/ml","t":78.45,"h":-2.1},{"s":"8 mg/ml","t":78.8,"h":-1.4},{"s":"8 mg/ml","t":79.2,"h":-0.8},{"s":"8 mg/ml","t":79.6,"h":-0.5},{"s":"8 mg/ml","t":79.9,"h":-0.3},{"s":"8 mg/ml","t":80.3,"h":0.0},{"s":"8 mg/ml","t":80.8,"h":-0.2},{"s":"8 mg/ml","t":81.3,"h":0.1},{"s":"8 mg/ml","t":81.8,"h":-0.1},{"s":"8 mg/ml","t":82.3,"h":0.2},{"s":"8 mg/ml","t":82.8,"h":0.0},{"s":"8 mg/ml","t":83.3,"h":0.3},{"s":"8 mg/ml","t":83.8,"h":0.1},{"s":"8 mg/ml","t":84.0,"h":0.2},
      {"s":"4 mg/ml","t":52.0,"h":0.1},{"s":"4 mg/ml","t":52.5,"h":-0.2},{"s":"4 mg/ml","t":53.0,"h":0.2},{"s":"4 mg/ml","t":53.5,"h":0.0},{"s":"4 mg/ml","t":54.0,"h":-0.3},{"s":"4 mg/ml","t":54.5,"h":0.1},{"s":"4 mg/ml","t":55.0,"h":-0.1},{"s":"4 mg/ml","t":55.5,"h":0.0},{"s":"4 mg/ml","t":56.0,"h":0.2},{"s":"4 mg/ml","t":56.5,"h":-0.2},{"s":"4 mg/ml","t":57.0,"h":0.0},{"s":"4 mg/ml","t":57.5,"h":0.1},{"s":"4 mg/ml","t":58.0,"h":-0.1},{"s":"4 mg/ml","t":58.5,"h":0.0},{"s":"4 mg/ml","t":59.0,"h":0.2},{"s":"4 mg/ml","t":59.5,"h":0.5},{"s":"4 mg/ml","t":60.0,"h":0.1},{"s":"4 mg/ml","t":60.5,"h":-0.2},{"s":"4 mg/ml","t":61.0,"h":0.0},{"s":"4 mg/ml","t":61.5,"h":0.1},{"s":"4 mg/ml","t":62.0,"h":-0.1},{"s":"4 mg/ml","t":62.5,"h":0.2},{"s":"4 mg/ml","t":63.0,"h":0.0},{"s":"4 mg/ml","t":63.5,"h":0.3},{"s":"4 mg/ml","t":64.0,"h":-0.1},{"s":"4 mg/ml","t":64.5,"h":0.0},{"s":"4 mg/ml","t":65.0,"h":0.2},{"s":"4 mg/ml","t":65.5,"h":-0.1},{"s":"4 mg/ml","t":66.0,"h":0.0},{"s":"4 mg/ml","t":66.5,"h":0.1},{"s":"4 mg/ml","t":67.0,"h":-0.1},{"s":"4 mg/ml","t":67.2,"h":-0.3},{"s":"4 mg/ml","t":67.6,"h":-0.6},{"s":"4 mg/ml","t":67.95,"h":-1.0},{"s":"4 mg/ml","t":68.3,"h":-1.5},{"s":"4 mg/ml","t":68.7,"h":-2.1},{"s":"4 mg/ml","t":69.0,"h":-2.4},{"s":"4 mg/ml","t":69.4,"h":-2.8},{"s":"4 mg/ml","t":69.8,"h":-3.4},{"s":"4 mg/ml","t":70.15,"h":-3.9},{"s":"4 mg/ml","t":70.5,"h":-4.5},{"s":"4 mg/ml","t":70.9,"h":-5.15},{"s":"4 mg/ml","t":71.2,"h":-5.6},{"s":"4 mg/ml","t":71.6,"h":-6.4},{"s":"4 mg/ml","t":72.0,"h":-7.1},{"s":"4 mg/ml","t":72.35,"h":-7.7},{"s":"4 mg/ml","t":72.7,"h":-8.3},{"s":"4 mg/ml","t":73.1,"h":-8.9},{"s":"4 mg/ml","t":73.4,"h":-9.5},{"s":"4 mg/ml","t":73.6,"h":-9.8},{"s":"4 mg/ml","t":73.8,"h":-10.0},{"s":"4 mg/ml","t":74.05,"h":-10.2},{"s":"4 mg/ml","t":74.3,"h":-10.0},{"s":"4 mg/ml","t":74.5,"h":-9.8},{"s":"4 mg/ml","t":74.8,"h":-9.3},{"s":"4 mg/ml","t":75.1,"h":-8.8},{"s":"4 mg/ml","t":75.5,"h":-7.85},{"s":"4 mg/ml","t":75.9,"h":-6.9},{"s":"4 mg/ml","t":76.25,"h":-6.05},{"s":"4 mg/ml","t":76.6,"h":-5.2},{"s":"4 mg/ml","t":77.0,"h":-4.25},{"s":"4 mg/ml","t":77.3,"h":-3.5},{"s":"4 mg/ml","t":77.7,"h":-2.45},{"s":"4 mg/ml","t":78.1,"h":-1.7},{"s":"4 mg/ml","t":78.45,"h":-1.0},{"s":"4 mg/ml","t":78.9,"h":-0.3},{"s":"4 mg/ml","t":79.3,"h":0.0},{"s":"4 mg/ml","t":79.8,"h":-0.2},{"s":"4 mg/ml","t":80.3,"h":0.1},{"s":"4 mg/ml","t":80.8,"h":-0.1},{"s":"4 mg/ml","t":81.3,"h":0.2},{"s":"4 mg/ml","t":81.8,"h":0.0},{"s":"4 mg/ml","t":82.3,"h":-0.2},{"s":"4 mg/ml","t":82.8,"h":0.1},{"s":"4 mg/ml","t":83.3,"h":0.3},{"s":"4 mg/ml","t":83.8,"h":0.0},{"s":"4 mg/ml","t":84.0,"h":0.1},
      {"s":"2 mg/ml","t":52.0,"h":0.1},{"s":"2 mg/ml","t":52.4,"h":-0.2},{"s":"2 mg/ml","t":52.8,"h":0.2},{"s":"2 mg/ml","t":53.2,"h":-0.4},{"s":"2 mg/ml","t":53.6,"h":0.1},{"s":"2 mg/ml","t":54.0,"h":-0.5},{"s":"2 mg/ml","t":54.4,"h":0.0},{"s":"2 mg/ml","t":54.8,"h":-0.3},{"s":"2 mg/ml","t":55.2,"h":0.2},{"s":"2 mg/ml","t":55.6,"h":-0.6},{"s":"2 mg/ml","t":56.0,"h":-0.1},{"s":"2 mg/ml","t":56.4,"h":-0.8},{"s":"2 mg/ml","t":56.8,"h":0.2},{"s":"2 mg/ml","t":57.2,"h":-0.3},{"s":"2 mg/ml","t":57.6,"h":0.6},{"s":"2 mg/ml","t":58.0,"h":-0.2},{"s":"2 mg/ml","t":58.4,"h":0.4},{"s":"2 mg/ml","t":58.8,"h":-0.5},{"s":"2 mg/ml","t":59.2,"h":0.1},{"s":"2 mg/ml","t":59.6,"h":-0.7},{"s":"2 mg/ml","t":60.0,"h":0.3},{"s":"2 mg/ml","t":60.4,"h":-0.2},{"s":"2 mg/ml","t":60.8,"h":0.5},{"s":"2 mg/ml","t":61.2,"h":-0.4},{"s":"2 mg/ml","t":61.6,"h":0.2},{"s":"2 mg/ml","t":62.0,"h":-0.3},{"s":"2 mg/ml","t":62.4,"h":0.4},{"s":"2 mg/ml","t":62.8,"h":-0.2},{"s":"2 mg/ml","t":63.2,"h":0.1},{"s":"2 mg/ml","t":63.6,"h":0.5},{"s":"2 mg/ml","t":64.0,"h":-0.3},{"s":"2 mg/ml","t":64.4,"h":0.2},{"s":"2 mg/ml","t":64.8,"h":-0.2},{"s":"2 mg/ml","t":65.2,"h":0.4},{"s":"2 mg/ml","t":65.6,"h":-0.1},{"s":"2 mg/ml","t":66.0,"h":0.3},{"s":"2 mg/ml","t":66.4,"h":-0.4},{"s":"2 mg/ml","t":66.8,"h":0.2},{"s":"2 mg/ml","t":67.2,"h":-0.2},{"s":"2 mg/ml","t":67.6,"h":0.4},{"s":"2 mg/ml","t":68.0,"h":-0.3},{"s":"2 mg/ml","t":68.4,"h":0.1},{"s":"2 mg/ml","t":68.8,"h":-0.2},{"s":"2 mg/ml","t":69.2,"h":0.3},{"s":"2 mg/ml","t":69.6,"h":-0.3},{"s":"2 mg/ml","t":70.0,"h":0.1},{"s":"2 mg/ml","t":70.3,"h":-0.6},{"s":"2 mg/ml","t":70.6,"h":-1.0},{"s":"2 mg/ml","t":70.9,"h":-1.6},{"s":"2 mg/ml","t":71.1,"h":-1.3},{"s":"2 mg/ml","t":71.4,"h":-1.9},{"s":"2 mg/ml","t":71.7,"h":-2.3},{"s":"2 mg/ml","t":72.0,"h":-2.0},{"s":"2 mg/ml","t":72.35,"h":-2.8},{"s":"2 mg/ml","t":72.6,"h":-2.5},{"s":"2 mg/ml","t":72.9,"h":-3.3},{"s":"2 mg/ml","t":73.1,"h":-3.2},{"s":"2 mg/ml","t":73.4,"h":-3.8},{"s":"2 mg/ml","t":73.6,"h":-3.5},{"s":"2 mg/ml","t":73.8,"h":-4.4},{"s":"2 mg/ml","t":74.0,"h":-3.9},{"s":"2 mg/ml","t":74.2,"h":-4.3},{"s":"2 mg/ml","t":74.5,"h":-3.7},{"s":"2 mg/ml","t":74.8,"h":-4.0},{"s":"2 mg/ml","t":75.0,"h":-3.4},{"s":"2 mg/ml","t":75.3,"h":-3.5},{"s":"2 mg/ml","t":75.5,"h":-3.9},{"s":"2 mg/ml","t":75.7,"h":-4.6},{"s":"2 mg/ml","t":75.9,"h":-3.8},{"s":"2 mg/ml","t":76.1,"h":-2.9},{"s":"2 mg/ml","t":76.25,"h":-2.45},{"s":"2 mg/ml","t":76.5,"h":-2.5},{"s":"2 mg/ml","t":76.8,"h":-1.8},{"s":"2 mg/ml","t":77.0,"h":-1.7},{"s":"2 mg/ml","t":77.3,"h":-1.2},{"s":"2 mg/ml","t":77.7,"h":-0.8},{"s":"2 mg/ml","t":78.0,"h":-0.6},{"s":"2 mg/ml","t":78.45,"h":0.0},{"s":"2 mg/ml","t":78.8,"h":-0.3},{"s":"2 mg/ml","t":79.2,"h":0.5},{"s":"2 mg/ml","t":79.6,"h":-0.2},{"s":"2 mg/ml","t":80.0,"h":0.4},{"s":"2 mg/ml","t":80.4,"h":0.0},{"s":"2 mg/ml","t":80.8,"h":0.5},{"s":"2 mg/ml","t":81.2,"h":-0.3},{"s":"2 mg/ml","t":81.6,"h":0.3},{"s":"2 mg/ml","t":82.0,"h":-0.2},{"s":"2 mg/ml","t":82.4,"h":0.4},{"s":"2 mg/ml","t":82.8,"h":1.0},{"s":"2 mg/ml","t":83.2,"h":0.2},{"s":"2 mg/ml","t":83.6,"h":0.7},{"s":"2 mg/ml","t":84.0,"h":0.4},
      {"s":"NaCl 0.35%","t":52.0,"h":0.3},{"s":"NaCl 0.35%","t":52.4,"h":0.8},{"s":"NaCl 0.35%","t":52.8,"h":-0.2},{"s":"NaCl 0.35%","t":53.2,"h":0.6},{"s":"NaCl 0.35%","t":53.6,"h":0.1},{"s":"NaCl 0.35%","t":54.0,"h":0.5},{"s":"NaCl 0.35%","t":54.4,"h":-0.3},{"s":"NaCl 0.35%","t":54.8,"h":0.4},{"s":"NaCl 0.35%","t":55.2,"h":0.0},{"s":"NaCl 0.35%","t":55.6,"h":0.6},{"s":"NaCl 0.35%","t":56.0,"h":-0.4},{"s":"NaCl 0.35%","t":56.4,"h":0.2},{"s":"NaCl 0.35%","t":56.8,"h":-0.6},{"s":"NaCl 0.35%","t":57.2,"h":0.3},{"s":"NaCl 0.35%","t":57.6,"h":-0.2},{"s":"NaCl 0.35%","t":58.0,"h":0.4},{"s":"NaCl 0.35%","t":58.4,"h":-0.1},{"s":"NaCl 0.35%","t":58.8,"h":0.5},{"s":"NaCl 0.35%","t":59.2,"h":-0.3},{"s":"NaCl 0.35%","t":59.6,"h":0.2},{"s":"NaCl 0.35%","t":60.0,"h":-0.4},{"s":"NaCl 0.35%","t":60.4,"h":0.3},{"s":"NaCl 0.35%","t":60.8,"h":-0.2},{"s":"NaCl 0.35%","t":61.2,"h":0.4},{"s":"NaCl 0.35%","t":61.6,"h":-0.1},{"s":"NaCl 0.35%","t":62.0,"h":0.3},{"s":"NaCl 0.35%","t":62.4,"h":-0.3},{"s":"NaCl 0.35%","t":62.8,"h":0.2},{"s":"NaCl 0.35%","t":63.2,"h":-0.2},{"s":"NaCl 0.35%","t":63.6,"h":0.5},{"s":"NaCl 0.35%","t":64.0,"h":0.0},{"s":"NaCl 0.35%","t":64.4,"h":0.3},{"s":"NaCl 0.35%","t":64.8,"h":-0.3},{"s":"NaCl 0.35%","t":65.2,"h":0.6},{"s":"NaCl 0.35%","t":65.6,"h":0.1},{"s":"NaCl 0.35%","t":66.0,"h":0.9},{"s":"NaCl 0.35%","t":66.4,"h":0.2},{"s":"NaCl 0.35%","t":66.8,"h":0.7},{"s":"NaCl 0.35%","t":67.2,"h":0.4},{"s":"NaCl 0.35%","t":67.5,"h":1.5},{"s":"NaCl 0.35%","t":67.8,"h":0.3},{"s":"NaCl 0.35%","t":68.2,"h":0.6},{"s":"NaCl 0.35%","t":68.6,"h":-0.2},{"s":"NaCl 0.35%","t":69.0,"h":0.5},{"s":"NaCl 0.35%","t":69.4,"h":0.1},{"s":"NaCl 0.35%","t":69.8,"h":0.4},{"s":"NaCl 0.35%","t":70.2,"h":0.0},{"s":"NaCl 0.35%","t":70.6,"h":0.6},{"s":"NaCl 0.35%","t":71.0,"h":1.1},{"s":"NaCl 0.35%","t":71.4,"h":0.3},{"s":"NaCl 0.35%","t":71.8,"h":0.8},{"s":"NaCl 0.35%","t":72.2,"h":0.2},{"s":"NaCl 0.35%","t":72.6,"h":0.9},{"s":"NaCl 0.35%","t":73.0,"h":0.4},{"s":"NaCl 0.35%","t":73.4,"h":0.8},{"s":"NaCl 0.35%","t":73.8,"h":0.1},{"s":"NaCl 0.35%","t":74.2,"h":0.7},{"s":"NaCl 0.35%","t":74.6,"h":0.3},{"s":"NaCl 0.35%","t":75.0,"h":0.9},{"s":"NaCl 0.35%","t":75.4,"h":0.2},{"s":"NaCl 0.35%","t":75.8,"h":0.6},{"s":"NaCl 0.35%","t":76.2,"h":-0.1},{"s":"NaCl 0.35%","t":76.6,"h":0.7},{"s":"NaCl 0.35%","t":77.0,"h":0.3},{"s":"NaCl 0.35%","t":77.4,"h":0.8},{"s":"NaCl 0.35%","t":77.8,"h":0.2},{"s":"NaCl 0.35%","t":78.2,"h":1.0},{"s":"NaCl 0.35%","t":78.6,"h":0.4},{"s":"NaCl 0.35%","t":79.0,"h":0.9},{"s":"NaCl 0.35%","t":79.4,"h":0.2},{"s":"NaCl 0.35%","t":79.8,"h":0.6},{"s":"NaCl 0.35%","t":80.2,"h":0.1},{"s":"NaCl 0.35%","t":80.6,"h":0.5},{"s":"NaCl 0.35%","t":81.0,"h":0.0},{"s":"NaCl 0.35%","t":81.4,"h":0.4},{"s":"NaCl 0.35%","t":81.8,"h":-0.2},{"s":"NaCl 0.35%","t":82.2,"h":0.5},{"s":"NaCl 0.35%","t":82.6,"h":0.0},{"s":"NaCl 0.35%","t":83.0,"h":0.6},{"s":"NaCl 0.35%","t":83.4,"h":-0.3},{"s":"NaCl 0.35%","t":83.8,"h":0.4},{"s":"NaCl 0.35%","t":84.0,"h":0.8}
    ]
  },
  "vconcat": [
    {
      "title": {"text": "A", "dy": 57},
      "width": 645,
      "height": 366,
      "data": {"name": "A"},
      "mark": {"type": "line", "clip": true},
      "encoding": {
        "x": {"field": "t", "type": "quantitative", "scale": {"domain": [50.02, 80.57], "nice": false, "zero": false},
              "axis": {"labels": false, "title": null, "values": [55, 60, 65, 70, 75, 80]}},
        "y": {"field": "h", "type": "quantitative", "scale": {"domain": [-7.68, 1.36], "nice": false, "zero": false},
              "axis": {"values": [0, -2, -4, -6], "labelExpr": "'' + datum.value", "title": "Heatflow in µW",
                       "titleAngle": 270, "titleAlign": "center", "titleBaseline": "alphabetic", "titleX": -36, "titleY": 168}},
        "color": {"field": "s", "type": "nominal",
                  "scale": {"domain": ["64 mg/ml", "32 mg/ml", "16 mg/ml", "8 mg/ml", "NaCl 0.35%"], "range": ["#000000", "#F7A11A", "#0000FF", "#FF0000", "#B8B8B8"]},
                  "legend": {"legendX": 515.5, "legendY": 238}}
      }
    },
    {
      "title": {"text": "B", "dy": 52},
      "width": 645,
      "height": 366,
      "data": {"name": "B"},
      "mark": {"type": "line", "clip": true},
      "encoding": {
        "x": {"field": "t", "type": "quantitative", "scale": {"domain": [50.72, 85.28], "nice": false, "zero": false},
              "axis": {"labels": false, "title": null, "values": [55, 60, 65, 70, 75, 80, 85]}},
        "y": {"field": "h", "type": "quantitative", "scale": {"domain": [-17.19, 1.875], "nice": false, "zero": false},
              "axis": {"values": [0, -5, -10, -15], "labelExpr": "'' + datum.value", "title": "Heatflow in µW",
                       "titleAngle": 270, "titleAlign": "center", "titleBaseline": "alphabetic", "titleX": -36, "titleY": 151}},
        "color": {"field": "s", "type": "nominal",
                  "scale": {"domain": ["16 mg/ml", "8 mg/ml", "4 mg/ml", "2 mg/ml", "NaCl 0.35%"], "range": ["#000000", "#F7A11A", "#0000FF", "#FF0000", "#B8B8B8"]},
                  "legend": {"legendX": 515.5, "legendY": 241, "rowPadding": 2}}
      }
    },
    {
      "title": {"text": "C", "dy": 49},
      "width": 645,
      "height": 366,
      "data": {"name": "C"},
      "mark": {"type": "line", "clip": true},
      "encoding": {
        "x": {"field": "t", "type": "quantitative", "scale": {"domain": [50.72, 85.28], "nice": false, "zero": false},
              "axis": {"values": [55, 60, 65, 70, 75, 80, 85], "title": "Temperature in °C", "titleBaseline": "alphabetic", "titleY": 44}},
        "y": {"field": "h", "type": "quantitative", "scale": {"domain": [-37.32, 2.16], "nice": false, "zero": false},
              "axis": {"values": [0, -10, -20, -30], "labelExpr": "'' + datum.value", "title": "Heatflow in µW",
                       "titleAngle": 270, "titleAlign": "center", "titleBaseline": "alphabetic", "titleX": -36, "titleY": 183}},
        "color": {"field": "s", "type": "nominal",
                  "scale": {"domain": ["16 mg/ml", "8 mg/ml", "4 mg/ml", "2 mg/ml", "NaCl 0.35%"], "range": ["#000000", "#F7A11A", "#0000FF", "#FF0000", "#B8B8B8"]},
                  "legend": {"legendX": 515.5, "legendY": 240}}
      }
    }
  ]
}
